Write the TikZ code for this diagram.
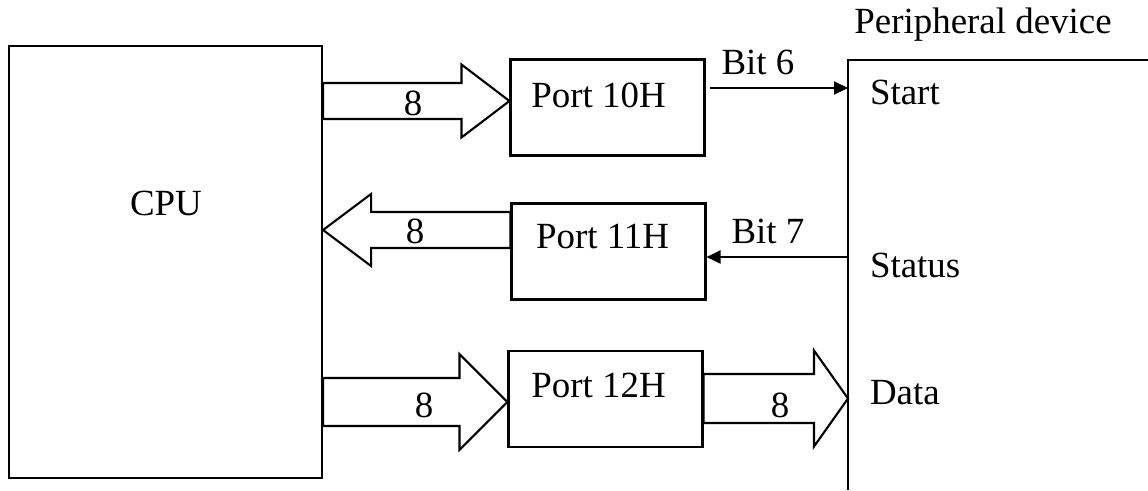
\documentclass[tikz,border=0pt]{standalone}
\usepackage{fontspec}
\setmainfont{Liberation Serif}
\usetikzlibrary{arrows.meta, positioning, calc}

\tikzset{
  port/.style={draw, minimum width=3.88cm, minimum height=1.92cm, inner sep=0},
  sig/.style={-{Triangle[length=2.8mm,width=2.6mm]}},
  side/.style={anchor=west, inner sep=0},
  bus/.style n args={3}{to path={
    ([shift={(0,#1)}]\tikztostart) -- ([shift={(#3,#1)}]\tikztotarget)
    -- ([shift={(#3,#2)}]\tikztotarget) -- (\tikztotarget)
    -- ([shift={(#3,-#2)}]\tikztotarget) -- ([shift={(#3,-#1)}]\tikztotarget)
    -- ([shift={(0,-#1)}]\tikztostart) -- cycle}}
}

\begin{document}
\begin{tikzpicture}[line width=1.2pt, font=\fontsize{21}{25}\selectfont]
\useasboundingbox (0,0) rectangle (22.96,9.8);

% CPU
\node[draw, minimum width=6.26cm, minimum height=8.64cm, inner sep=0] (cpu) at (3.31,4.56) {};
\node (cpulbl) at (3.32,5.74) {CPU};

% Ports
\node[port, label={[shift={(-0.18,0.24)}]center:Port 10H}] (p10) at (12.15,7.65) {};
\node[port, label={[shift={(-0.12,0.3)}]center:Port 11H}] (p11) at (12.17,4.77) {};
\node[port, label={[shift={(-0.14,0.28)}]center:Port 12H}] (p12) at (12.11,1.82) {};

% Peripheral device
\draw (16.96,0) coordinate (devbot) |- (22.96,8.6) coordinate (devtop);
\node (devlbl) at (19.66,9.3) {Peripheral device};
\coordinate (start) at (16.96,8.04);
\coordinate (status) at (16.96,4.66);
\coordinate (data) at (16.96,1.83);
\node[side] (startlbl) at (17.38,7.96) {Start};
\node[side] (statuslbl) at (17.38,4.5) {Status};
\node[side] (datalbl) at (17.38,1.94) {Data};

% CPU -> Port 10H
\coordinate (b1) at ([yshift=0.13cm]p10.west);
\draw[bus={0.36}{0.73}{-0.96}] (cpu.east |- b1) to (b1);
\node (n1) at (8.26,7.74) {8};

% Port 11H -> CPU
\coordinate (b2) at ([yshift=0.43cm]p11.west);
\draw[bus={0.36}{0.72}{0.96}] (b2) to (cpu.east |- b2);
\node (n2) at (8.3,5.18) {8};

% CPU -> Port 12H -> device
\coordinate (b3) at ([yshift=-0.06cm]p12.west);
\draw[bus={0.48}{0.96}{-0.96}] (cpu.east |- b3) to (b3);
\node (n3) at (8.48,1.7) {8};
\draw[bus={0.49}{0.96}{-0.68}] (p12.east |- data) to (data);
\node (n4) at (15.6,1.7) {8};

% control bits
\draw[sig] ([xshift=0.08cm]p10.east |- start) -- (start);
\node (bit6) at (15.16,8.56) {Bit 6};
\draw[sig] (status) -- (p11.east |- status);
\node (bit7) at (15.36,5.18) {Bit 7};
\end{tikzpicture}
\end{document}
